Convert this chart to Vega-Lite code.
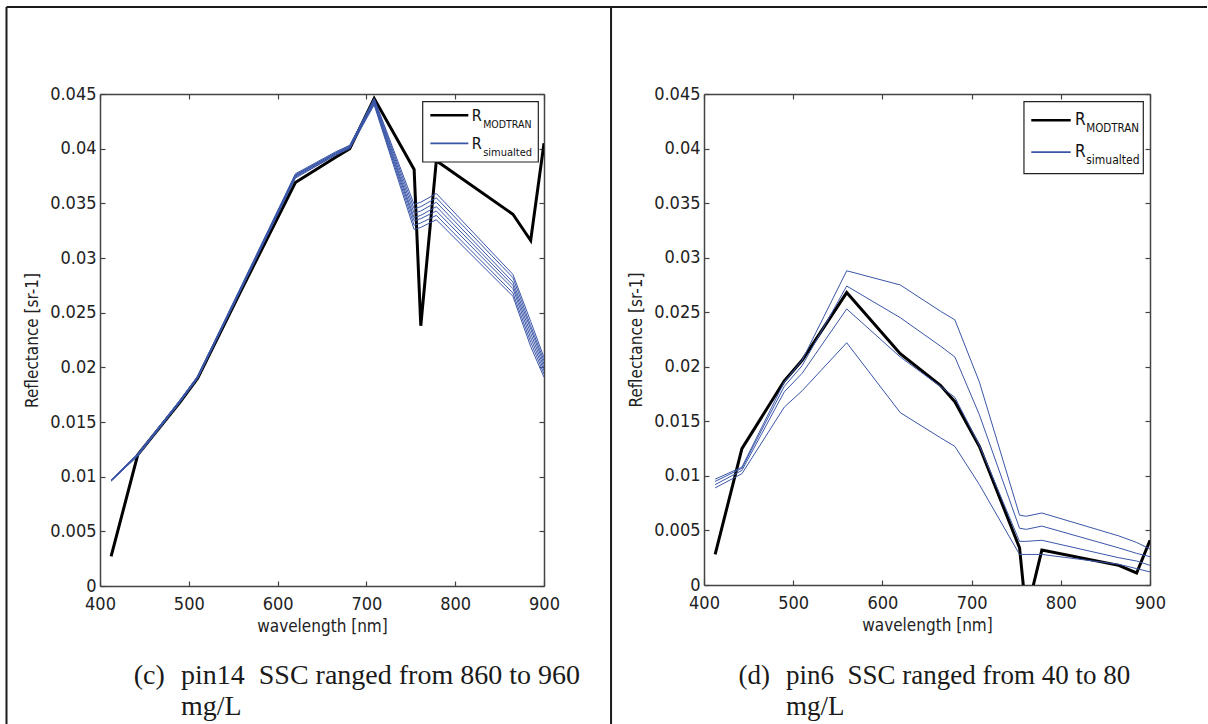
{
  "$schema": "https://vega.github.io/schema/vega-lite/v6.json",
  "padding": {"left": 5, "top": 5, "right": 0, "bottom": 0},
  "background": "white",
  "spacing": -5,
  "datasets": {
    "c": [
      {"wl": 412.5, "M": 0.0027, "s1": 0.0097, "s2": 0.0097, "s3": 0.0097, "s4": 0.0096, "s5": 0.0096, "s6": 0.0096, "s7": 0.0096},
      {"wl": 442.5, "M": 0.0120, "s1": 0.0121, "s2": 0.0121, "s3": 0.0120, "s4": 0.0120, "s5": 0.0120, "s6": 0.0119, "s7": 0.0119},
      {"wl": 490, "M": 0.0168, "s1": 0.0170, "s2": 0.0170, "s3": 0.0169, "s4": 0.0169, "s5": 0.0168, "s6": 0.0168, "s7": 0.0168},
      {"wl": 510, "M": 0.0190, "s1": 0.0192, "s2": 0.0192, "s3": 0.0191, "s4": 0.0191, "s5": 0.0191, "s6": 0.0190, "s7": 0.0190},
      {"wl": 560, "M": 0.0272, "s1": 0.0276, "s2": 0.0275, "s3": 0.0275, "s4": 0.0274, "s5": 0.0274, "s6": 0.0273, "s7": 0.0273},
      {"wl": 620, "M": 0.0369, "s1": 0.0377, "s2": 0.0376, "s3": 0.0376, "s4": 0.0375, "s5": 0.0375, "s6": 0.0374, "s7": 0.0373},
      {"wl": 665, "M": 0.0392, "s1": 0.0397, "s2": 0.0396, "s3": 0.0396, "s4": 0.0395, "s5": 0.0395, "s6": 0.0394, "s7": 0.0394},
      {"wl": 681.25, "M": 0.0400, "s1": 0.0403, "s2": 0.0403, "s3": 0.0402, "s4": 0.0402, "s5": 0.0401, "s6": 0.0401, "s7": 0.0400},
      {"wl": 708.75, "M": 0.0446, "s1": 0.0446, "s2": 0.0445, "s3": 0.0444, "s4": 0.0443, "s5": 0.0442, "s6": 0.0441, "s7": 0.0440},
      {"wl": 753.75, "M": 0.0381, "s1": 0.0349, "s2": 0.0345, "s3": 0.0341, "s4": 0.0337, "s5": 0.0334, "s6": 0.0330, "s7": 0.0326},
      {"wl": 761.25, "M": 0.0238, "s1": 0.0351, "s2": 0.0347, "s3": 0.0343, "s4": 0.0339, "s5": 0.0336, "s6": 0.0332, "s7": 0.0328},
      {"wl": 778.75, "M": 0.0389, "s1": 0.0359, "s2": 0.0355, "s3": 0.0351, "s4": 0.0347, "s5": 0.0343, "s6": 0.0339, "s7": 0.0335},
      {"wl": 865, "M": 0.0340, "s1": 0.0285, "s2": 0.0282, "s3": 0.0278, "s4": 0.0275, "s5": 0.0272, "s6": 0.0268, "s7": 0.0265},
      {"wl": 885, "M": 0.0316, "s1": 0.0242, "s2": 0.0238, "s3": 0.0235, "s4": 0.0231, "s5": 0.0227, "s6": 0.0223, "s7": 0.0219},
      {"wl": 900, "M": 0.0405, "s1": 0.0209, "s2": 0.0206, "s3": 0.0203, "s4": 0.0200, "s5": 0.0197, "s6": 0.0194, "s7": 0.0191}
    ],
    "d": [
      {"wl": 412.5, "M": 0.0028, "s1": 0.0097, "s2": 0.0095, "s3": 0.0092, "s4": 0.0089},
      {"wl": 442.5, "M": 0.0125, "s1": 0.0108, "s2": 0.0107, "s3": 0.0105, "s4": 0.0102},
      {"wl": 490, "M": 0.0187, "s1": 0.0186, "s2": 0.0182, "s3": 0.0177, "s4": 0.0163},
      {"wl": 510, "M": 0.0206, "s1": 0.0206, "s2": 0.0201, "s3": 0.0194, "s4": 0.0178},
      {"wl": 560, "M": 0.0268, "s1": 0.0288, "s2": 0.0274, "s3": 0.0253, "s4": 0.0222},
      {"wl": 620, "M": 0.0212, "s1": 0.0275, "s2": 0.0245, "s3": 0.0209, "s4": 0.0158},
      {"wl": 665, "M": 0.0183, "s1": 0.0251, "s2": 0.0219, "s3": 0.0182, "s4": 0.0135},
      {"wl": 681.25, "M": 0.0168, "s1": 0.0243, "s2": 0.0209, "s3": 0.0172, "s4": 0.0127},
      {"wl": 708.75, "M": 0.0127, "s1": 0.0186, "s2": 0.0156, "s3": 0.0128, "s4": 0.0092},
      {"wl": 753.75, "M": 0.0034, "s1": 0.0064, "s2": 0.0052, "s3": 0.0040, "s4": 0.0028},
      {"wl": 761.25, "M": -0.0027, "s1": 0.0063, "s2": 0.0051, "s3": 0.0040, "s4": 0.0028},
      {"wl": 778.75, "M": 0.0032, "s1": 0.0066, "s2": 0.0054, "s3": 0.0041, "s4": 0.0028},
      {"wl": 865, "M": 0.0018, "s1": 0.0045, "s2": 0.0034, "s3": 0.0025, "s4": 0.0019},
      {"wl": 885, "M": 0.0011, "s1": 0.0039, "s2": 0.0029, "s3": 0.0022, "s4": 0.0015},
      {"wl": 900, "M": 0.0041, "s1": 0.0033, "s2": 0.0026, "s3": 0.0018, "s4": 0.0012}
    ]
  },
  "hconcat": [
    {
      "width": 444,
      "height": 492,
      "data": {"name": "c"},
      "layer": [
        {
          "mark": {"type": "line", "color": "#000000", "strokeWidth": 3, "clip": true},
          "encoding": {
            "x": {"field": "wl", "type": "quantitative", "scale": {"domain": [400, 900], "nice": false, "zero": false},
                  "axis": {"orient": "bottom", "values": [400, 500, 600, 700, 800, 900], "format": "d", "title": "wavelength [nm]", "labelFlush": false, "labelPadding": 14, "titlePadding": 5}},
            "y": {"field": "M", "type": "quantitative", "scale": {"domain": [0, 0.045], "nice": false, "zero": false},
                  "axis": {"orient": "left", "values": [0, 0.005, 0.01, 0.015, 0.02, 0.025, 0.03, 0.035, 0.04, 0.045], "format": "~g", "title": "Reflectance [sr-1]", "labelPadding": 9, "titlePadding": 8}}
          }
        },
        {
          "transform": [{"fold": ["s1", "s2", "s3", "s4", "s5", "s6", "s7"], "as": ["run", "r"]}],
          "mark": {"type": "line", "color": "#3a56a8", "strokeWidth": 1, "clip": true},
          "encoding": {
            "x": {"field": "wl", "type": "quantitative", "axis": null},
            "y": {"field": "r", "type": "quantitative", "axis": null},
            "detail": {"field": "run"}
          }
        },
        {
          "mark": {"type": "point", "opacity": 0},
          "encoding": {
            "x": {"field": "wl", "type": "quantitative", "axis": {"orient": "top", "values": [400, 500, 600, 700, 800, 900], "labels": false, "title": null}},
            "y": {"field": "M", "type": "quantitative", "axis": {"orient": "right", "values": [0, 0.005, 0.01, 0.015, 0.02, 0.025, 0.03, 0.035, 0.04, 0.045], "labels": false, "title": null}}
          }
        },
        {
          "data": {"values": [{}]},
          "mark": {"type": "rect", "fill": "white", "stroke": "#222222", "strokeWidth": 1.2},
          "encoding": {
            "x": {"datum": 763.4, "type": "quantitative", "axis": null}, "x2": {"datum": 893.6},
            "y": {"datum": 0.0443, "type": "quantitative", "axis": null}, "y2": {"datum": 0.03878}
          }
        },
        {
          "data": {"values": [{}]},
          "mark": {"type": "rule", "color": "#000000", "strokeWidth": 2.5},
          "encoding": {
            "x": {"datum": 772, "type": "quantitative", "axis": null}, "x2": {"datum": 814.8},
            "y": {"datum": 0.04305, "type": "quantitative", "axis": null}
          }
        },
        {
          "data": {"values": [{}]},
          "mark": {"type": "rule", "color": "#3a56a8", "strokeWidth": 1.8},
          "encoding": {
            "x": {"datum": 772, "type": "quantitative", "axis": null}, "x2": {"datum": 814.8},
            "y": {"datum": 0.04049, "type": "quantitative", "axis": null}
          }
        },
        {
          "data": {"values": [{}]},
          "mark": {"type": "text", "text": "R", "align": "left", "baseline": "alphabetic", "font": "Liberation Sans Narrow, DejaVu Sans Condensed, Liberation Sans, sans-serif", "fontSize": 16, "color": "#111111"},
          "encoding": {"x": {"datum": 818.6, "type": "quantitative", "axis": null}, "y": {"datum": 0.04253, "type": "quantitative", "axis": null}}
        },
        {
          "data": {"values": [{}]},
          "mark": {"type": "text", "text": "MODTRAN", "align": "left", "baseline": "alphabetic", "font": "Liberation Sans Narrow, DejaVu Sans Condensed, Liberation Sans, sans-serif", "fontSize": 10.5, "color": "#111111"},
          "encoding": {"x": {"datum": 831.5, "type": "quantitative", "axis": null}, "y": {"datum": 0.04192, "type": "quantitative", "axis": null}}
        },
        {
          "data": {"values": [{}]},
          "mark": {"type": "text", "text": "R", "align": "left", "baseline": "alphabetic", "font": "Liberation Sans Narrow, DejaVu Sans Condensed, Liberation Sans, sans-serif", "fontSize": 16, "color": "#111111"},
          "encoding": {"x": {"datum": 818.6, "type": "quantitative", "axis": null}, "y": {"datum": 0.03997, "type": "quantitative", "axis": null}}
        },
        {
          "data": {"values": [{}]},
          "mark": {"type": "text", "text": "simualted", "align": "left", "baseline": "alphabetic", "font": "Liberation Sans Narrow, DejaVu Sans Condensed, Liberation Sans, sans-serif", "fontSize": 11, "color": "#111111"},
          "encoding": {"x": {"datum": 831.5, "type": "quantitative", "axis": null}, "y": {"datum": 0.03933, "type": "quantitative", "axis": null}}
        },
        {
          "data": {"values": [{}]},
          "mark": {"type": "rule", "color": "#1a1a1a", "strokeWidth": 2},
          "encoding": {"x": {"datum": 294.7, "type": "quantitative", "axis": null}, "y": {"datum": 0.052957, "type": "quantitative", "axis": null}, "y2": {"datum": -0.0129}}
        },
        {
          "data": {"values": [{}]},
          "mark": {"type": "rule", "color": "#1a1a1a", "strokeWidth": 2},
          "encoding": {"x": {"datum": 975.5, "type": "quantitative", "axis": null}, "y": {"datum": 0.052957, "type": "quantitative", "axis": null}, "y2": {"datum": -0.0129}}
        },
        {
          "data": {"values": [{}]},
          "mark": {"type": "rule", "color": "#1a1a1a", "strokeWidth": 2},
          "encoding": {"x": {"datum": 294.7, "type": "quantitative", "axis": null}, "x2": {"datum": 975.5}, "y": {"datum": 0.052957, "type": "quantitative", "axis": null}}
        },
        {
          "data": {"values": [{}]},
          "mark": {"type": "text", "text": "(c)", "align": "left", "baseline": "alphabetic", "font": "Liberation Serif, Times New Roman, serif", "fontSize": 28, "color": "#1a1a1a"},
          "encoding": {"x": {"datum": 437.9, "type": "quantitative", "axis": null}, "y": {"datum": -0.008964, "type": "quantitative", "axis": null}}
        },
        {
          "data": {"values": [{}]},
          "mark": {"type": "text", "text": "pin14\u00a0 SSC ranged from 860 to 960", "align": "left", "baseline": "alphabetic", "font": "Liberation Serif, Times New Roman, serif", "fontSize": 28, "color": "#1a1a1a"},
          "encoding": {"x": {"datum": 491.2, "type": "quantitative", "axis": null}, "y": {"datum": -0.008964, "type": "quantitative", "axis": null}}
        },
        {
          "data": {"values": [{}]},
          "mark": {"type": "text", "text": "mg/L", "align": "left", "baseline": "alphabetic", "font": "Liberation Serif, Times New Roman, serif", "fontSize": 28, "color": "#1a1a1a"},
          "encoding": {"x": {"datum": 491.2, "type": "quantitative", "axis": null}, "y": {"datum": -0.011799, "type": "quantitative", "axis": null}}
        }
      ]
    },
    {
      "width": 446,
      "height": 491,
      "data": {"name": "d"},
      "layer": [
        {
          "mark": {"type": "line", "color": "#000000", "strokeWidth": 3, "clip": true},
          "encoding": {
            "x": {"field": "wl", "type": "quantitative", "scale": {"domain": [400, 900], "nice": false, "zero": false},
                  "axis": {"orient": "bottom", "values": [400, 500, 600, 700, 800, 900], "format": "d", "title": "wavelength [nm]", "labelFlush": false, "labelPadding": 14, "titlePadding": 5}},
            "y": {"field": "M", "type": "quantitative", "scale": {"domain": [0, 0.045], "nice": false, "zero": false},
                  "axis": {"orient": "left", "values": [0, 0.005, 0.01, 0.015, 0.02, 0.025, 0.03, 0.035, 0.04, 0.045], "format": "~g", "title": "Reflectance [sr-1]", "labelPadding": 9, "titlePadding": 8}}
          }
        },
        {
          "transform": [{"fold": ["s1", "s2", "s3", "s4"], "as": ["run", "r"]}],
          "mark": {"type": "line", "color": "#3a56a8", "strokeWidth": 1, "clip": true},
          "encoding": {
            "x": {"field": "wl", "type": "quantitative", "axis": null},
            "y": {"field": "r", "type": "quantitative", "axis": null},
            "detail": {"field": "run"}
          }
        },
        {
          "mark": {"type": "point", "opacity": 0},
          "encoding": {
            "x": {"field": "wl", "type": "quantitative", "axis": {"orient": "top", "values": [400, 500, 600, 700, 800, 900], "labels": false, "title": null}},
            "y": {"field": "s4", "type": "quantitative", "axis": {"orient": "right", "values": [0, 0.005, 0.01, 0.015, 0.02, 0.025, 0.03, 0.035, 0.04, 0.045], "labels": false, "title": null}}
          }
        },
        {
          "data": {"values": [{}]},
          "mark": {"type": "rect", "fill": "white", "stroke": "#222222", "strokeWidth": 1.2},
          "encoding": {
            "x": {"datum": 758.7, "type": "quantitative", "axis": null}, "x2": {"datum": 892.5},
            "y": {"datum": 0.0443, "type": "quantitative", "axis": null}, "y2": {"datum": 0.0377}
          }
        },
        {
          "data": {"values": [{}]},
          "mark": {"type": "rule", "color": "#000000", "strokeWidth": 2.5},
          "encoding": {
            "x": {"datum": 766.9, "type": "quantitative", "axis": null}, "x2": {"datum": 811.1},
            "y": {"datum": 0.04259, "type": "quantitative", "axis": null}
          }
        },
        {
          "data": {"values": [{}]},
          "mark": {"type": "rule", "color": "#3a56a8", "strokeWidth": 1.8},
          "encoding": {
            "x": {"datum": 766.9, "type": "quantitative", "axis": null}, "x2": {"datum": 811.1},
            "y": {"datum": 0.03968, "type": "quantitative", "axis": null}
          }
        },
        {
          "data": {"values": [{}]},
          "mark": {"type": "text", "text": "R", "align": "left", "baseline": "alphabetic", "font": "Liberation Sans Narrow, DejaVu Sans Condensed, Liberation Sans, sans-serif", "fontSize": 17, "color": "#111111"},
          "encoding": {"x": {"datum": 815.9, "type": "quantitative", "axis": null}, "y": {"datum": 0.04216, "type": "quantitative", "axis": null}}
        },
        {
          "data": {"values": [{}]},
          "mark": {"type": "text", "text": "MODTRAN", "align": "left", "baseline": "alphabetic", "font": "Liberation Sans Narrow, DejaVu Sans Condensed, Liberation Sans, sans-serif", "fontSize": 11.5, "color": "#111111"},
          "encoding": {"x": {"datum": 828.5, "type": "quantitative", "axis": null}, "y": {"datum": 0.04155, "type": "quantitative", "axis": null}}
        },
        {
          "data": {"values": [{}]},
          "mark": {"type": "text", "text": "R", "align": "left", "baseline": "alphabetic", "font": "Liberation Sans Narrow, DejaVu Sans Condensed, Liberation Sans, sans-serif", "fontSize": 17, "color": "#111111"},
          "encoding": {"x": {"datum": 815.9, "type": "quantitative", "axis": null}, "y": {"datum": 0.03923, "type": "quantitative", "axis": null}}
        },
        {
          "data": {"values": [{}]},
          "mark": {"type": "text", "text": "simualted", "align": "left", "baseline": "alphabetic", "font": "Liberation Sans Narrow, DejaVu Sans Condensed, Liberation Sans, sans-serif", "fontSize": 12, "color": "#111111"},
          "encoding": {"x": {"datum": 828.5, "type": "quantitative", "axis": null}, "y": {"datum": 0.03856, "type": "quantitative", "axis": null}}
        },
        {
          "data": {"values": [{}]},
          "mark": {"type": "rule", "color": "#1a1a1a", "strokeWidth": 2},
          "encoding": {"x": {"datum": 294.6, "type": "quantitative", "axis": null}, "x2": {"datum": 963.9}, "y": {"datum": 0.052974, "type": "quantitative", "axis": null}}
        },
        {
          "data": {"values": [{}]},
          "mark": {"type": "text", "text": "(d)", "align": "left", "baseline": "alphabetic", "font": "Liberation Serif, Times New Roman, serif", "fontSize": 27, "color": "#1a1a1a"},
          "encoding": {"x": {"datum": 438.7, "type": "quantitative", "axis": null}, "y": {"datum": -0.009073, "type": "quantitative", "axis": null}}
        },
        {
          "data": {"values": [{}]},
          "mark": {"type": "text", "text": "pin6\u00a0 SSC ranged from 40 to 80", "align": "left", "baseline": "alphabetic", "font": "Liberation Serif, Times New Roman, serif", "fontSize": 27, "color": "#1a1a1a"},
          "encoding": {"x": {"datum": 491.9, "type": "quantitative", "axis": null}, "y": {"datum": -0.009073, "type": "quantitative", "axis": null}}
        },
        {
          "data": {"values": [{}]},
          "mark": {"type": "text", "text": "mg/L", "align": "left", "baseline": "alphabetic", "font": "Liberation Serif, Times New Roman, serif", "fontSize": 27, "color": "#1a1a1a"},
          "encoding": {"x": {"datum": 491.9, "type": "quantitative", "axis": null}, "y": {"datum": -0.011915, "type": "quantitative", "axis": null}}
        }
      ]
    }
  ],
  "config": {
    "view": {"stroke": null},
    "axis": {
      "labelFont": "Liberation Sans Narrow, DejaVu Sans Condensed, Liberation Sans, sans-serif",
      "labelFontSize": 18,
      "labelColor": "#222222",
      "titleFont": "Liberation Sans Narrow, DejaVu Sans Condensed, Liberation Sans, sans-serif",
      "titleFontSize": 17,
      "titleFontWeight": "normal",
      "titleColor": "#222222",
      "domainColor": "#444444",
      "domainWidth": 1.5,
      "tickColor": "#444444",
      "tickWidth": 1.2,
      "tickSize": -5,
      "grid": false
    }
  }
}
